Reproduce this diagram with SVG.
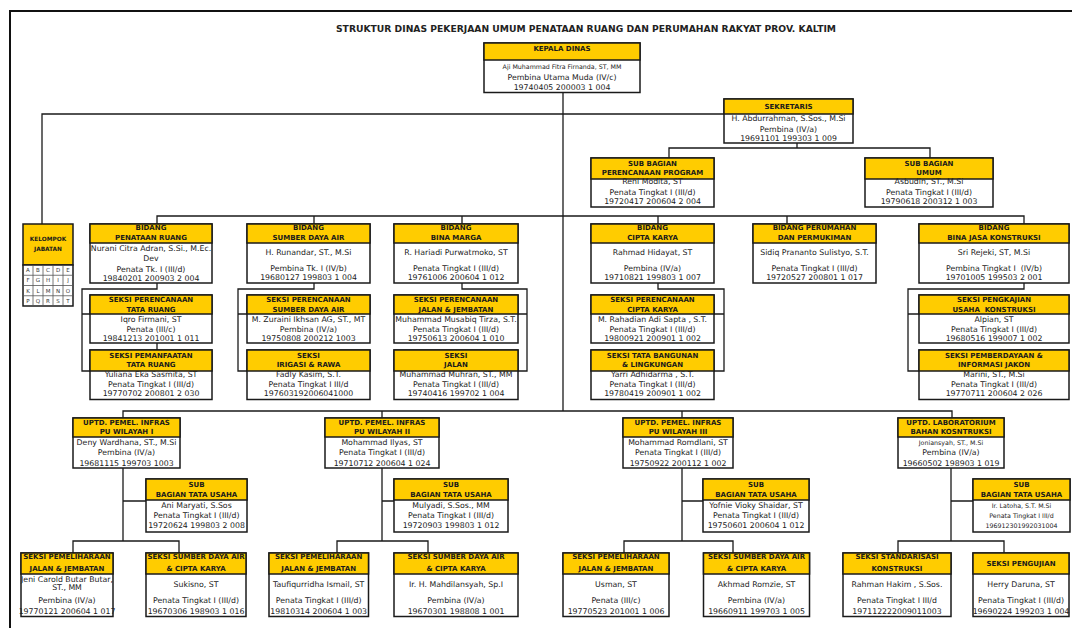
<svg xmlns="http://www.w3.org/2000/svg" width="1072" height="628" viewBox="0 0 1072 628">
<style>
.bx{fill:#fff;stroke:#1a1a1a;stroke-width:1.5}
.hd{fill:#ffcc00;stroke:#1a1a1a;stroke-width:1.5}
.h{font-family:"DejaVu Sans",sans-serif;font-weight:bold;font-size:7px;fill:#1a1a1a;text-anchor:middle}
.t{font-family:"DejaVu Sans",sans-serif;font-size:7.8px;fill:#222;text-anchor:middle}
.sm{font-size:6.3px}
.k{font-family:"DejaVu Sans",sans-serif;font-size:5.5px;fill:#333;text-anchor:middle}
.kh{font-family:"DejaVu Sans",sans-serif;font-weight:bold;font-size:5.8px;fill:#1a1a1a;text-anchor:middle}
.cn path{fill:none;stroke:#1a1a1a;stroke-width:1.3}
.frame{fill:none;stroke:#111;stroke-width:2}
</style>
<rect width="1072" height="628" fill="#fff"/>
<path class="frame" d="M10,628 V11 H1072"/>
<text x="586" y="31.5" font-family="DejaVu Sans, sans-serif" font-weight="bold" font-size="9.3" fill="#222" text-anchor="middle" textLength="500" lengthAdjust="spacingAndGlyphs">STRUKTUR DINAS PEKERJAAN UMUM PENATAAN RUANG DAN PERUMAHAN RAKYAT PROV. KALTIM</text>

<g id="connectors" class="cn">
<path d="M563,92 V411"/>
<path d="M42,224 V114 H724"/>
<path d="M797,143 V148 M669,158 V148 H930 V158"/>
<path d="M157,224 V216 H1024 V224 M314,216 V224 M462,216 V224 M658,216 V224 M787,216 V224"/>
<path d="M157,283 V289 H82 V371 H90 M82,314 H90 M157,343 V350"/>
<path d="M314,283 V289 H238 V371 H247 M238,314 H247"/>
<path d="M462,283 V289 H527 V371 H518 M527,314 H518"/>
<path d="M658,283 V289 H724 V371 H714 M724,314 H714"/>
<path d="M1024,283 V289 H908 V371 H919 M908,314 H919"/>
<path d="M123,418 V411 H952 V418 M382,411 V418 M682,411 V418"/>
<path d="M123,468 V541 M123,501 H146 M73,553 V541 H179 V553"/>
<path d="M382,468 V541 M382,501 H394 M337,553 V541 H428 V553"/>
<path d="M682,468 V541 M682,501 H703 M624,553 V541 H733 V553"/>
<path d="M951,468 V541 M951,501 H973 M898,553 V541 H1004 V553"/>
</g>

<g id="kepala-dinas">
<rect class="bx" x="484" y="43" width="156" height="49.5"/>
<rect class="hd" x="484" y="43" width="156" height="17"/>
<text class="h" x="562" y="51">KEPALA DINAS</text>
<text class="t sm" x="562" y="69">Aji Muhammad Fitra Firnanda, ST, MM</text>
<text class="t" x="562" y="79.5" font-size="8.2">Pembina Utama Muda (IV/c)</text>
<text class="t" x="562" y="90" font-size="8.2">19740405 200003 1 004</text>
</g>

<g id="sekretaris">
<rect class="bx" x="724" y="99" width="129" height="44"/>
<rect class="hd" x="724" y="99" width="129" height="15"/>
<text class="h" x="788.5" y="109.3">SEKRETARIS</text>
<text class="t" x="788.5" y="121" font-size="7.1">H. Abdurrahman, S.Sos., M.Si</text>
<text class="t" x="788.5" y="131.7" font-size="7.1">Pembina (IV/a)</text>
<text class="t" x="788.5" y="140.5" font-size="7.1">19691101 199303 1 009</text>
</g>

<g id="subbag-program">
<rect class="bx" x="591" y="158" width="123" height="49"/>
<rect class="hd" x="591" y="158" width="123" height="21"/>
<text class="h" x="652.5" y="165.9">SUB BAGIAN</text>
<text class="h" x="652.5" y="174.9">PERENCANAAN PROGRAM</text>
<text class="t" x="652.5" y="184.4">Reni Modita, ST</text>
<text class="t" x="652.5" y="195">Penata Tingkat I (III/d)</text>
<text class="t" x="652.5" y="204.4">19720417 200604 2 004</text>
</g>

<g id="subbag-umum">
<rect class="bx" x="865" y="158" width="128" height="49"/>
<rect class="hd" x="865" y="158" width="128" height="21"/>
<text class="h" x="929" y="165.9">SUB BAGIAN</text>
<text class="h" x="929" y="174.9">UMUM</text>
<text class="t" x="929" y="184.4">Asbudin, ST., M.Si</text>
<text class="t" x="929" y="195">Penata Tingkat I (III/d)</text>
<text class="t" x="929" y="204.4">19790618 200312 1 003</text>
</g>

<g id="kelompok-jabatan">
<rect class="hd" x="23" y="224" width="50" height="41"/>
<rect class="bx" x="23" y="265" width="50" height="41"/>
<text class="kh" x="48" y="240.7">KELOMPOK</text>
<text class="kh" x="48" y="250.7">JABATAN</text>
<path d="M23,275.25 H73 M23,285.5 H73 M23,295.75 H73 M33,265 V306 M43,265 V306 M53,265 V306 M63,265 V306" stroke="#555" stroke-width="0.8" fill="none"/>
<text class="k" x="28" y="272.2">A</text><text class="k" x="38" y="272.2">B</text><text class="k" x="48" y="272.2">C</text><text class="k" x="58" y="272.2">D</text><text class="k" x="68" y="272.2">E</text>
<text class="k" x="28" y="282.4">F</text><text class="k" x="38" y="282.4">G</text><text class="k" x="48" y="282.4">H</text><text class="k" x="58" y="282.4">I</text><text class="k" x="68" y="282.4">J</text>
<text class="k" x="28" y="292.7">K</text><text class="k" x="38" y="292.7">L</text><text class="k" x="48" y="292.7">M</text><text class="k" x="58" y="292.7">N</text><text class="k" x="68" y="292.7">O</text>
<text class="k" x="28" y="302.9">P</text><text class="k" x="38" y="302.9">Q</text><text class="k" x="48" y="302.9">R</text><text class="k" x="58" y="302.9">S</text><text class="k" x="68" y="302.9">T</text>
</g>

<g id="bidang-penataan-ruang">
<rect class="bx" x="90" y="224" width="122" height="59"/>
<rect class="hd" x="90" y="224" width="122" height="19"/>
<text class="h" x="151" y="230">BIDANG</text>
<text class="h" x="151" y="240">PENATAAN RUANG</text>
<text class="t" x="151" y="251" font-size="7.5">Nurani Citra Adran, S.Si., M.Ec.</text>
<text class="t" x="151" y="261">Dev</text>
<text class="t" x="151" y="271.7">Penata Tk. I (III/d)</text>
<text class="t" x="151" y="280.7">19840201 200903 2 004</text>
</g>

<g id="bidang-sda">
<rect class="bx" x="247" y="224" width="123" height="59"/>
<rect class="hd" x="247" y="224" width="123" height="19"/>
<text class="h" x="308.5" y="230">BIDANG</text>
<text class="h" x="308.5" y="240">SUMBER DAYA AIR</text>
<text class="t" x="308.5" y="255.4">H. Runandar, ST., M.Si</text>
<text class="t" x="308.5" y="271">Pembina Tk. I (IV/b)</text>
<text class="t" x="308.5" y="280.4">19680127 199803 1 004</text>
</g>

<g id="bidang-bina-marga">
<rect class="bx" x="394" y="224" width="124" height="59"/>
<rect class="hd" x="394" y="224" width="124" height="19"/>
<text class="h" x="456" y="230">BIDANG</text>
<text class="h" x="456" y="240">BINA MARGA</text>
<text class="t" x="456" y="255.4">R. Hariadi Purwatmoko, ST</text>
<text class="t" x="456" y="271">Penata Tingkat I (III/d)</text>
<text class="t" x="456" y="280.4">19761006 200604 1 012</text>
</g>

<g id="bidang-cipta-karya">
<rect class="bx" x="591" y="224" width="123" height="59"/>
<rect class="hd" x="591" y="224" width="123" height="19"/>
<text class="h" x="652.5" y="230">BIDANG</text>
<text class="h" x="652.5" y="240">CIPTA KARYA</text>
<text class="t" x="652.5" y="255.4">Rahmad Hidayat, ST</text>
<text class="t" x="652.5" y="271">Pembina (IV/a)</text>
<text class="t" x="652.5" y="280.4">19710821 199803 1 007</text>
</g>

<g id="bidang-perumahan">
<rect class="bx" x="753" y="224" width="123" height="59"/>
<rect class="hd" x="753" y="224" width="123" height="19"/>
<text class="h" x="814.5" y="230">BIDANG PERUMAHAN</text>
<text class="h" x="814.5" y="240">DAN PERMUKIMAN</text>
<text class="t" x="814.5" y="255.4" font-size="7.6">Sidiq Prananto Sulistyo, S.T.</text>
<text class="t" x="814.5" y="271">Penata Tingkat I (III/d)</text>
<text class="t" x="814.5" y="280.4">19720527 200801 1 017</text>
</g>

<g id="bidang-bina-jasa">
<rect class="bx" x="919" y="224" width="150" height="59"/>
<rect class="hd" x="919" y="224" width="150" height="19"/>
<text class="h" x="994" y="230">BIDANG</text>
<text class="h" x="994" y="240">BINA JASA KONSTRUKSI</text>
<text class="t" x="994" y="255.4">Sri Rejeki, ST, M.Si</text>
<text class="t" x="994" y="271" xml:space="preserve">Pembina Tingkat I  (IV/b)</text>
<text class="t" x="994" y="280.4">19701005 199503 2 001</text>
</g>

<g id="seksi-perencanaan-tata-ruang">
<rect class="bx" x="90" y="295" width="122" height="48"/>
<rect class="hd" x="90" y="295" width="122" height="19"/>
<text class="h" x="151" y="302">SEKSI PERENCANAAN</text>
<text class="h" x="151" y="311.6">TATA RUANG</text>
<text class="t" x="151" y="321.7">Iqro Firmani, ST</text>
<text class="t" x="151" y="331.7">Penata (III/c)</text>
<text class="t" x="151" y="341">19841213 201001 1 011</text>
</g>
<g id="seksi-pemanfaatan-tata-ruang">
<rect class="bx" x="90" y="350" width="122" height="49.5"/>
<rect class="hd" x="90" y="350" width="122" height="21"/>
<text class="h" x="151" y="357.6">SEKSI PEMANFAATAN</text>
<text class="h" x="151" y="367">TATA RUANG</text>
<text class="t" x="151" y="377">Yuliana Eka Sasmita, ST</text>
<text class="t" x="151" y="386.7">Penata Tingkat I (III/d)</text>
<text class="t" x="151" y="396">19770702 200801 2 030</text>
</g>

<g id="seksi-perencanaan-sda">
<rect class="bx" x="247" y="295" width="123" height="48"/>
<rect class="hd" x="247" y="295" width="123" height="19"/>
<text class="h" x="308.5" y="302">SEKSI PERENCANAAN</text>
<text class="h" x="308.5" y="311.6">SUMBER DAYA AIR</text>
<text class="t" x="308.5" y="321.7" font-size="7.5">M. Zuraini Ikhsan AG, ST., MT</text>
<text class="t" x="308.5" y="331.7">Pembina (IV/a)</text>
<text class="t" x="308.5" y="341">19750808 200212 1003</text>
</g>
<g id="seksi-irigasi-rawa">
<rect class="bx" x="247" y="350" width="123" height="49.5"/>
<rect class="hd" x="247" y="350" width="123" height="21"/>
<text class="h" x="308.5" y="357.6">SEKSI</text>
<text class="h" x="308.5" y="367">IRIGASI &amp; RAWA</text>
<text class="t" x="308.5" y="377">Fadly Kasim, S.T.</text>
<text class="t" x="308.5" y="386.7">Penata Tingkat I III/d</text>
<text class="t" x="308.5" y="396">197603192006041000</text>
</g>

<g id="seksi-perencanaan-jalan">
<rect class="bx" x="394" y="295" width="124" height="48"/>
<rect class="hd" x="394" y="295" width="124" height="19"/>
<text class="h" x="456" y="302">SEKSI PERENCANAAN</text>
<text class="h" x="456" y="311.6">JALAN &amp; JEMBATAN</text>
<text class="t" x="456" y="321.7" font-size="7.4">Muhammad Musabiq Tirza, S.T.</text>
<text class="t" x="456" y="331.7">Penata Tingkat I (III/d)</text>
<text class="t" x="456" y="341">19750613 200604 1 010</text>
</g>
<g id="seksi-jalan">
<rect class="bx" x="394" y="350" width="124" height="49.5"/>
<rect class="hd" x="394" y="350" width="124" height="21"/>
<text class="h" x="456" y="357.6">SEKSI</text>
<text class="h" x="456" y="367">JALAN</text>
<text class="t" x="456" y="377">Muhammad Muhran, ST., MM</text>
<text class="t" x="456" y="386.7">Penata Tingkat I (III/d)</text>
<text class="t" x="456" y="396">19740416 199702 1 004</text>
</g>

<g id="seksi-perencanaan-ck">
<rect class="bx" x="591" y="295" width="123" height="48"/>
<rect class="hd" x="591" y="295" width="123" height="19"/>
<text class="h" x="652.5" y="302">SEKSI PERENCANAAN</text>
<text class="h" x="652.5" y="311.6">CIPTA KARYA</text>
<text class="t" x="652.5" y="321.7" font-size="7.6">M. Rahadian Adi Sapta , S.T.</text>
<text class="t" x="652.5" y="331.7">Penata Tingkat I (III/d)</text>
<text class="t" x="652.5" y="341">19800921 200901 1 002</text>
</g>
<g id="seksi-tata-bangunan">
<rect class="bx" x="591" y="350" width="123" height="49.5"/>
<rect class="hd" x="591" y="350" width="123" height="21"/>
<text class="h" x="652.5" y="357.6">SEKSI TATA BANGUNAN</text>
<text class="h" x="652.5" y="367">&amp; LINGKUNGAN</text>
<text class="t" x="652.5" y="377">Yarri Adhidarma , S.T.</text>
<text class="t" x="652.5" y="386.7">Penata Tingkat I (III/d)</text>
<text class="t" x="652.5" y="396">19780419 200901 1 002</text>
</g>

<g id="seksi-pengkajian">
<rect class="bx" x="919" y="295" width="150" height="48"/>
<rect class="hd" x="919" y="295" width="150" height="19"/>
<text class="h" x="994" y="302">SEKSI PENGKAJIAN</text>
<text class="h" x="994" y="311.6" xml:space="preserve">USAHA  KONSTRUKSI</text>
<text class="t" x="994" y="321.7">Alpian, ST</text>
<text class="t" x="994" y="331.7">Penata Tingkat I (III/d)</text>
<text class="t" x="994" y="341">19680516 199007 1 002</text>
</g>
<g id="seksi-pemberdayaan">
<rect class="bx" x="919" y="350" width="150" height="49.5"/>
<rect class="hd" x="919" y="350" width="150" height="21"/>
<text class="h" x="994" y="357.6">SEKSI PEMBERDAYAAN &amp;</text>
<text class="h" x="994" y="367">INFORMASI JAKON</text>
<text class="t" x="994" y="377">Marini, ST., M.Si</text>
<text class="t" x="994" y="386.7">Penata Tingkat I (III/d)</text>
<text class="t" x="994" y="396">19770711 200604 2 026</text>
</g>

<g id="uptd-1">
<rect class="bx" x="73" y="418" width="107" height="50"/>
<rect class="hd" x="73" y="418" width="107" height="19"/>
<text class="h" x="126.5" y="425">UPTD. PEMEL. INFRAS</text>
<text class="h" x="126.5" y="434.3">PU WILAYAH I</text>
<text class="t" x="126.5" y="445.4">Deny Wardhana, ST., M.Si</text>
<text class="t" x="126.5" y="455.4">Pembina (IV/a)</text>
<text class="t" x="126.5" y="465.7">19681115 199703 1003</text>
</g>
<g id="uptd-2">
<rect class="bx" x="325" y="418" width="114" height="50"/>
<rect class="hd" x="325" y="418" width="114" height="19"/>
<text class="h" x="382" y="425">UPTD. PEMEL. INFRAS</text>
<text class="h" x="382" y="434.3">PU WILAYAH II</text>
<text class="t" x="382" y="445.4">Mohammad Ilyas, ST</text>
<text class="t" x="382" y="455.4">Penata Tingkat I (III/d)</text>
<text class="t" x="382" y="465.7">19710712 200604 1 024</text>
</g>
<g id="uptd-3">
<rect class="bx" x="623" y="418" width="110" height="50"/>
<rect class="hd" x="623" y="418" width="110" height="19"/>
<text class="h" x="678" y="425">UPTD. PEMEL. INFRAS</text>
<text class="h" x="678" y="434.3">PU WILAYAH III</text>
<text class="t" x="678" y="445.4">Mohammad Romdlani, ST</text>
<text class="t" x="678" y="455.4">Penata Tingkat I (III/d)</text>
<text class="t" x="678" y="465.7">19750922 200112 1 002</text>
</g>
<g id="uptd-lab">
<rect class="bx" x="898" y="418" width="106" height="50"/>
<rect class="hd" x="898" y="418" width="106" height="19"/>
<text class="h" x="951" y="425">UPTD. LABORATORIUM</text>
<text class="h" x="951" y="434.3">BAHAN KOSNTRUKSI</text>
<text class="t sm" x="951" y="445">Joniansyah, ST., M.Si</text>
<text class="t" x="951" y="455.4">Pembina (IV/a)</text>
<text class="t" x="951" y="465.7">19660502 198903 1 019</text>
</g>

<g id="subbag-tu-1">
<rect class="bx" x="146" y="479" width="101" height="53"/>
<rect class="hd" x="146" y="479" width="101" height="21"/>
<text class="h" x="196.5" y="486.6">SUB</text>
<text class="h" x="196.5" y="496.9">BAGIAN TATA USAHA</text>
<text class="t" x="196.5" y="507.7">Ani Maryati, S.Sos</text>
<text class="t" x="196.5" y="517.7">Penata Tingkat I (III/d)</text>
<text class="t" x="196.5" y="527.7">19720624 199803 2 008</text>
</g>
<g id="subbag-tu-2">
<rect class="bx" x="394" y="479" width="114" height="53"/>
<rect class="hd" x="394" y="479" width="114" height="21"/>
<text class="h" x="451" y="486.6">SUB</text>
<text class="h" x="451" y="496.9">BAGIAN TATA USAHA</text>
<text class="t" x="451" y="507.7">Mulyadi, S.Sos., MM</text>
<text class="t" x="451" y="517.7">Penata Tingkat I (III/d)</text>
<text class="t" x="451" y="527.7">19720903 199803 1 012</text>
</g>
<g id="subbag-tu-3">
<rect class="bx" x="703" y="479" width="106" height="53"/>
<rect class="hd" x="703" y="479" width="106" height="21"/>
<text class="h" x="756" y="486.6">SUB</text>
<text class="h" x="756" y="496.9">BAGIAN TATA USAHA</text>
<text class="t" x="756" y="507.7">Yofnie Vioky Shaidar, ST</text>
<text class="t" x="756" y="517.7">Penata Tingkat I (III/d)</text>
<text class="t" x="756" y="527.7">19750601 200604 1 012</text>
</g>
<g id="subbag-tu-lab">
<rect class="bx" x="973" y="479" width="97" height="53"/>
<rect class="hd" x="973" y="479" width="97" height="21"/>
<text class="h" x="1021.5" y="486.6">SUB</text>
<text class="h" x="1021.5" y="496.9">BAGIAN TATA USAHA</text>
<text class="t sm" x="1021.5" y="507.5">Ir. Latoha, S.T. M.Si</text>
<text class="t sm" x="1021.5" y="517.5">Penata Tingkat I III/d</text>
<text class="t sm" x="1021.5" y="527.5">196912301992031004</text>
</g>

<g id="seksi-pemeliharaan-1">
<rect class="bx" x="21" y="553" width="92" height="63.5"/>
<rect class="hd" x="21" y="553" width="92" height="21"/>
<text class="h" x="67" y="559.3">SEKSI PEMELIHARAAN</text>
<text class="h" x="67" y="570.9">JALAN &amp; JEMBATAN</text>
<text class="t" x="67" y="581.8" font-size="5.8">Jeni Carold Butar Butar,</text>
<text class="t" x="67" y="589.6" font-size="5.8">ST., MM</text>
<text class="t" x="67" y="602.5" font-size="6.3">Pembina (IV/a)</text>
<text class="t" x="67" y="613.8" font-size="6.3">19770121 200604 1 017</text>
</g>
<g id="seksi-sda-ck-1">
<rect class="bx" x="146" y="553" width="100" height="63.5"/>
<rect class="hd" x="146" y="553" width="100" height="21"/>
<text class="h" x="196" y="559.3" font-size="5.8">SEKSI SUMBER DAYA AIR</text>
<text class="h" x="196" y="570.9" font-size="5.8">&amp; CIPTA KARYA</text>
<text class="t" x="196" y="586.7">Sukisno, ST</text>
<text class="t" x="196" y="602.7">Penata Tingkat I (III/d)</text>
<text class="t" x="196" y="614">19670306 198903 1 016</text>
</g>
<g id="seksi-pemeliharaan-2">
<rect class="bx" x="269" y="553" width="99.5" height="63.5"/>
<rect class="hd" x="269" y="553" width="99.5" height="21"/>
<text class="h" x="318.7" y="559.3">SEKSI PEMELIHARAAN</text>
<text class="h" x="318.7" y="570.9">JALAN &amp; JEMBATAN</text>
<text class="t" x="318.7" y="586.7">Taufiqurridha Ismail, ST</text>
<text class="t" x="318.7" y="602.7">Penata Tingkat I (III/d)</text>
<text class="t" x="318.7" y="614">19810314 200604 1 003</text>
</g>
<g id="seksi-sda-ck-2">
<rect class="bx" x="394" y="553" width="124" height="63.5"/>
<rect class="hd" x="394" y="553" width="124" height="21"/>
<text class="h" x="456" y="559.3">SEKSI SUMBER DAYA AIR</text>
<text class="h" x="456" y="570.9">&amp; CIPTA KARYA</text>
<text class="t" x="456" y="586.7">Ir. H. Mahdilansyah, Sp.I</text>
<text class="t" x="456" y="602.7">Pembina (IV/a)</text>
<text class="t" x="456" y="614">19670301 198808 1 001</text>
</g>
<g id="seksi-pemeliharaan-3">
<rect class="bx" x="563" y="553" width="106" height="63.5"/>
<rect class="hd" x="563" y="553" width="106" height="21"/>
<text class="h" x="616" y="559.3">SEKSI PEMELIHARAAN</text>
<text class="h" x="616" y="570.9">JALAN &amp; JEMBATAN</text>
<text class="t" x="616" y="586.7">Usman, ST</text>
<text class="t" x="616" y="602.7">Penata (III/c)</text>
<text class="t" x="616" y="614">19770523 201001 1 006</text>
</g>
<g id="seksi-sda-ck-3">
<rect class="bx" x="703.5" y="553" width="106" height="63.5"/>
<rect class="hd" x="703.5" y="553" width="106" height="21"/>
<text class="h" x="756.5" y="559.3">SEKSI SUMBER DAYA AIR</text>
<text class="h" x="756.5" y="570.9">&amp; CIPTA KARYA</text>
<text class="t" x="756.5" y="586.7">Akhmad Romzie, ST</text>
<text class="t" x="756.5" y="602.7">Pembina (IV/a)</text>
<text class="t" x="756.5" y="614">19660911 199703 1 005</text>
</g>
<g id="seksi-standarisasi">
<rect class="bx" x="843" y="553" width="108" height="63.5"/>
<rect class="hd" x="843" y="553" width="108" height="21"/>
<text class="h" x="897" y="559.3">SEKSI STANDARISASI</text>
<text class="h" x="897" y="570.9">KONSTRUKSI</text>
<text class="t" x="897" y="586.7">Rahman Hakim , S.Sos.</text>
<text class="t" x="897" y="602.7">Penata Tingkat I III/d</text>
<text class="t" x="897" y="614">197112222009011003</text>
</g>
<g id="seksi-pengujian">
<rect class="bx" x="973" y="553" width="96" height="63.5"/>
<rect class="hd" x="973" y="553" width="96" height="21"/>
<text class="h" x="1021" y="566">SEKSI PENGUJIAN</text>
<text class="t" x="1021" y="586.7">Herry Daruna, ST</text>
<text class="t" x="1021" y="602.7">Penata Tingkat I (III/d)</text>
<text class="t" x="1021" y="614">19690224 199203 1 004</text>
</g>
</svg>
